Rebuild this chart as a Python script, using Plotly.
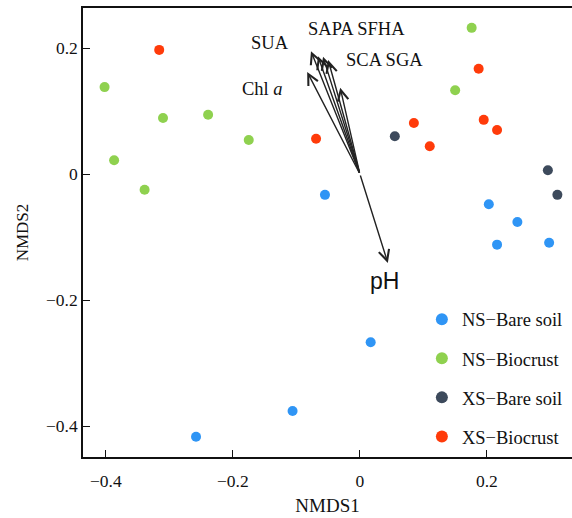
import plotly.graph_objects as go

# ---- data ----
groups = ["NS−Bare soil", "NS−Biocrust", "XS−Bare soil", "XS−Biocrust"]
colors = ["#2F95F5", "#8FD14F", "#3D4A5C", "#FF3B0A"]

ns_bare_x = [-0.055, 0.203, 0.248, 0.216, 0.298, 0.017, -0.106, -0.258]
ns_bare_y = [-0.033, -0.048, -0.076, -0.112, -0.109, -0.267, -0.376, -0.417]

ns_bio_x = [0.176, -0.402, -0.310, -0.239, -0.175, -0.387, -0.339, 0.150]
ns_bio_y = [0.232, 0.138, 0.089, 0.094, 0.054, 0.022, -0.025, 0.133]

xs_bare_x = [0.055, 0.296, 0.311]
xs_bare_y = [0.060, 0.006, -0.033]

xs_bio_x = [-0.316, -0.069, 0.187, 0.085, 0.110, 0.195, 0.216]
xs_bio_y = [0.197, 0.056, 0.167, 0.081, 0.044, 0.086, 0.070]

env_vars = ["SUA", "SAPA", "SFHA", "SCA", "SGA", "Chl a", "pH"]
env_x = [-0.077, -0.066, -0.058, -0.050, -0.031, -0.083, 0.044]
env_y = [0.195, 0.187, 0.186, 0.181, 0.137, 0.162, -0.141]

xticks = [-0.4, -0.2, 0, 0.2]
xtick_text = ["−0.4", "−0.2", "0", "0.2"]
yticks = [-0.4, -0.2, 0, 0.2]
ytick_text = ["−0.4", "−0.2", "0", "0.2"]

series_x = [ns_bare_x, ns_bio_x, xs_bare_x, xs_bio_x]
series_y = [ns_bare_y, ns_bio_y, xs_bare_y, xs_bio_y]

SERIF = "Liberation Serif, Times New Roman, serif"

fig = go.Figure()
for i, name in enumerate(groups):
    fig.add_trace(go.Scatter(
        x=series_x[i], y=series_y[i], mode="markers", name=name,
        legendgroup=name,
        marker=dict(color=colors[i], size=10, line=dict(width=0)),
    ))

# arrows from origin
for vx, vy in zip(env_x, env_y):
    fig.add_annotation(
        x=vx, y=vy, ax=0, ay=0, xref="x", yref="y", axref="x", ayref="y",
        showarrow=True, arrowhead=5, arrowsize=1.5, arrowwidth=1.4,
        arrowcolor="#222222", text="",
    )

# arrow labels
labels = [
    ("SUA", -0.142, 0.208, SERIF, 18.5),
    ("SAPA SFHA", -0.005, 0.230, SERIF, 18.5),
    ("SCA SGA", 0.039, 0.181, SERIF, 18.5),
    ("Chl <i>a</i>", -0.154, 0.135, SERIF, 18.5),
    ("pH", 0.038, -0.170, "Liberation Sans, Arial, sans-serif", 23),
]
for t, lx, ly, fam, fs in labels:
    fig.add_annotation(x=lx, y=ly, xref="x", yref="y", text=t, showarrow=False,
                       font=dict(family=fam, size=fs, color="#111111"))

fig.update_layout(
    width=572, height=518,
    margin=dict(l=83, r=0, t=8, b=61),
    paper_bgcolor="white", plot_bgcolor="white",
    font=dict(family=SERIF, size=17.5, color="#111111"),
    showlegend=True,
    legend=dict(x=0.693, y=0.348, xanchor="left", yanchor="top",
                bgcolor="rgba(0,0,0,0)", tracegroupgap=12,
                font=dict(family=SERIF, size=18.5), itemsizing="constant"),
)
fig.update_xaxes(
    range=[-0.436, 0.334], tickvals=xticks, ticktext=xtick_text,
    ticks="inside", ticklen=7, tickwidth=1.2, tickcolor="#111111",
    showline=True, linecolor="#111111", linewidth=1.5, mirror=True,
    showgrid=False, zeroline=False, automargin=False, ticklabelstandoff=7,
    title=dict(text="NMDS1", standoff=9, font=dict(size=19)),
)
fig.update_yaxes(
    range=[-0.449, 0.2635], tickvals=yticks, ticktext=ytick_text,
    ticks="inside", ticklen=7, tickwidth=1.2, tickcolor="#111111",
    showline=True, linecolor="#111111", linewidth=1.5, mirror=False,
    showgrid=False, zeroline=False, automargin=False,
    title=dict(text="NMDS2", standoff=13, font=dict(size=17)),
)

fig.write_html("out.html", post_script="document.body.style.margin='0';",
               config={"displayModeBar": False})
